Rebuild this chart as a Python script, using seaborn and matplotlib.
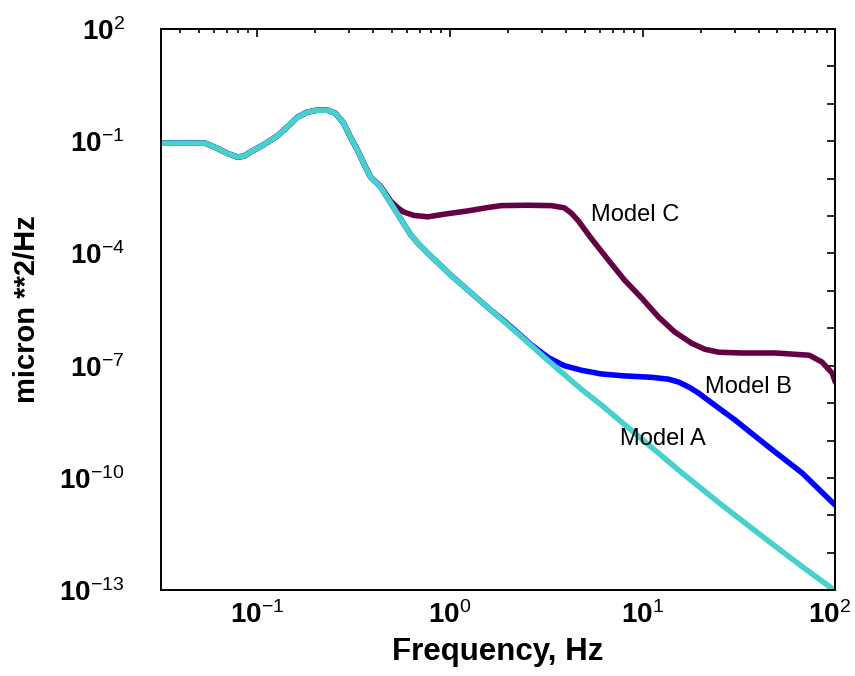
import numpy as np
import pandas as pd
import matplotlib
matplotlib.use("Agg")
import matplotlib.pyplot as plt
import matplotlib.ticker as mticker
import seaborn as sns

#%%
#  Data, stored as log10 values
#  (frequency in Hz, PSD in micron**2/Hz)

# Model A: the base curve
log_f_a = [-1.50, -1.27, -1.21, -1.156, -1.104, -1.07, -1.036, -0.969, -0.896, -0.844,
           -0.79, -0.74, -0.69, -0.635, -0.594, -0.552, -0.516, -0.479, -0.448, -0.411,
           -0.36, -0.307, -0.25, -0.203, -0.16, -0.115, 0.005, 0.125, 0.214, 0.35,
           0.50, 0.682, 0.786, 1.0, 1.203, 1.40, 1.656, 1.82, 2.0]
log_p_a = [-1.05, -1.05, -1.18, -1.32, -1.42, -1.40, -1.29, -1.10, -0.86, -0.62,
           -0.35, -0.22, -0.17, -0.17, -0.25, -0.51, -0.89, -1.24, -1.58, -1.96,
           -2.22, -2.65, -3.12, -3.50, -3.76, -3.99, -4.58, -5.12, -5.52, -6.13,
           -6.82, -7.63, -8.05, -8.98, -9.86, -10.68, -11.70, -12.34, -13.02]

# Model B: leaves Model A near 2 Hz
log_f_b = [-1.50, -1.27, -1.21, -1.156, -1.104, -1.07, -1.036, -0.969, -0.896, -0.844,
           -0.79, -0.74, -0.69, -0.635, -0.594, -0.552, -0.516, -0.479, -0.448, -0.411,
           -0.36, -0.307, -0.25, -0.203, -0.16, -0.115, 0.005, 0.125, 0.214, 0.281,
           0.35, 0.422, 0.51, 0.594, 0.682, 0.786, 0.90, 1.047, 1.135, 1.188,
           1.24, 1.29, 1.36, 1.479, 1.656, 1.828, 2.0]
log_p_b = [-1.05, -1.05, -1.18, -1.32, -1.42, -1.40, -1.29, -1.10, -0.86, -0.62,
           -0.35, -0.22, -0.17, -0.17, -0.25, -0.51, -0.89, -1.24, -1.58, -1.96,
           -2.22, -2.65, -3.12, -3.50, -3.76, -3.99, -4.58, -5.12, -5.52, -5.80,
           -6.11, -6.44, -6.78, -7.00, -7.12, -7.22, -7.27, -7.31, -7.36, -7.44,
           -7.57, -7.73, -8.00, -8.45, -9.18, -9.87, -10.73]

# Model C: leaves Model A near 0.5 Hz
log_f_c = [-1.50, -1.27, -1.21, -1.156, -1.104, -1.07, -1.036, -0.969, -0.896, -0.844,
           -0.79, -0.74, -0.69, -0.635, -0.594, -0.552, -0.516, -0.479, -0.448, -0.411,
           -0.36, -0.307, -0.27, -0.24, -0.188, -0.115, -0.031, 0.094, 0.198, 0.266,
           0.40, 0.526, 0.594, 0.63, 0.667, 0.734, 0.823, 0.906, 0.995, 1.083,
           1.167, 1.255, 1.323, 1.396, 1.516, 1.69, 1.865, 1.93, 1.984, 2.0]
log_p_c = [-1.05, -1.05, -1.18, -1.32, -1.42, -1.40, -1.29, -1.10, -0.86, -0.62,
           -0.35, -0.22, -0.17, -0.17, -0.25, -0.51, -0.89, -1.24, -1.58, -1.96,
           -2.20, -2.60, -2.78, -2.89, -2.98, -3.02, -2.95, -2.86, -2.77, -2.72,
           -2.71, -2.72, -2.78, -2.92, -3.13, -3.60, -4.18, -4.71, -5.19, -5.70,
           -6.10, -6.40, -6.56, -6.64, -6.66, -6.66, -6.72, -6.90, -7.20, -7.44]

model_names = ["Model C", "Model B", "Model A"]
model_colors = ["#660044", "#0000ff", "#48d1cc"]

# label anchors (x, y) in data units
label_x = [5.4, 21.0, 7.6]
label_y = [1.07e-3, 2.7e-8, 1.1e-9]

x_ticks = [0.1, 1, 10, 100]
x_tick_labels = [r"$\mathbf{10}^{-1}$", r"$\mathbf{10}^{0}$", r"$\mathbf{10}^{1}$", ""]
last_x_label = r"$\mathbf{10}^{2}$"
y_ticks = [1e-13, 1e-12, 1e-11, 1e-10, 1e-9, 1e-8, 1e-7, 1e-6, 1e-5, 1e-4,
           1e-3, 1e-2, 1e-1, 1e0, 1e1, 1e2]
y_tick_labels = [r"$\mathbf{10}^{-13}$", "", "", r"$\mathbf{10}^{-10}$", "", "",
                 r"$\mathbf{10}^{-7}$", "", "", r"$\mathbf{10}^{-4}$", "", "",
                 r"$\mathbf{10}^{-1}$", "", "", r"$\mathbf{10}^{2}$"]

#%%
#  Long-form table for seaborn

df = pd.concat([
    pd.DataFrame({"freq": np.power(10.0, log_f_c), "psd": np.power(10.0, log_p_c), "model": "Model C"}),
    pd.DataFrame({"freq": np.power(10.0, log_f_b), "psd": np.power(10.0, log_p_b), "model": "Model B"}),
    pd.DataFrame({"freq": np.power(10.0, log_f_a), "psd": np.power(10.0, log_p_a), "model": "Model A"}),
], ignore_index=True)

#%%
#  Plot

sns.set_style("white")
plt.rcParams["font.family"] = ["Liberation Sans", "DejaVu Sans"]
plt.rcParams["mathtext.fontset"] = "custom"
plt.rcParams["mathtext.rm"] = "Liberation Sans"
plt.rcParams["mathtext.bf"] = "Liberation Sans:bold"
plt.rcParams["mathtext.it"] = "Liberation Sans:italic"
for key in ["text.color", "axes.labelcolor", "xtick.color", "ytick.color"]:
    plt.rcParams[key] = "black"

fig = plt.figure(figsize=(8.55, 6.76), dpi=100)
ax = fig.add_axes([0.188, 0.127, 0.789, 0.830])
ax.set_xscale("log")
ax.set_yscale("log")

for name, col in zip(model_names, model_colors):
    sns.lineplot(data=df[df["model"] == name], x="freq", y="psd", color=col,
                 linewidth=4.0, estimator=None, sort=False, ax=ax)

for name, lx, ly in zip(model_names, label_x, label_y):
    ax.text(lx, ly, name, fontsize=17, va="center", ha="left", color="black")

ax.set_xlim(0.0316, 100)
ax.set_ylim(1e-13, 1e2)

ax.set_xticks(x_ticks)
ax.set_xticklabels(x_tick_labels)
ax.xaxis.set_minor_locator(mticker.LogLocator(base=10, subs=np.arange(2, 10), numticks=20))
ax.xaxis.set_minor_formatter(mticker.NullFormatter())
ax.set_yticks(y_ticks)
ax.set_yticklabels(y_tick_labels)
ax.yaxis.set_minor_locator(mticker.NullLocator())

ax.tick_params(which="both", direction="in", top=True, right=True, width=1.2, color="black")
ax.tick_params(which="major", length=6)
ax.tick_params(which="minor", length=3)
ax.tick_params(axis="x", which="major", labelsize=20, pad=8)
ax.tick_params(axis="y", which="major", labelsize=20, pad=26)
for lab in ax.get_yticklabels():
    lab.set_horizontalalignment("right")

# the 10^2 label sits at the right edge, nudge it inward a little
ax.annotate(last_x_label, xy=(100, 0), xycoords=("data", "axes fraction"),
            xytext=(-4, -8), textcoords="offset points", ha="center", va="top",
            fontsize=20)

for sp in ax.spines.values():
    sp.set_linewidth(1.4)
    sp.set_color("black")

ax.set_xlabel("Frequency, Hz", fontsize=22.5, fontweight="bold", labelpad=6)
ax.set_ylabel("micron **2/Hz", fontsize=21, fontweight="bold")
ax.yaxis.set_label_coords(-0.178, 0.5)
if ax.get_legend() is not None:
    ax.get_legend().remove()

fig.savefig("out.png", dpi=100)
